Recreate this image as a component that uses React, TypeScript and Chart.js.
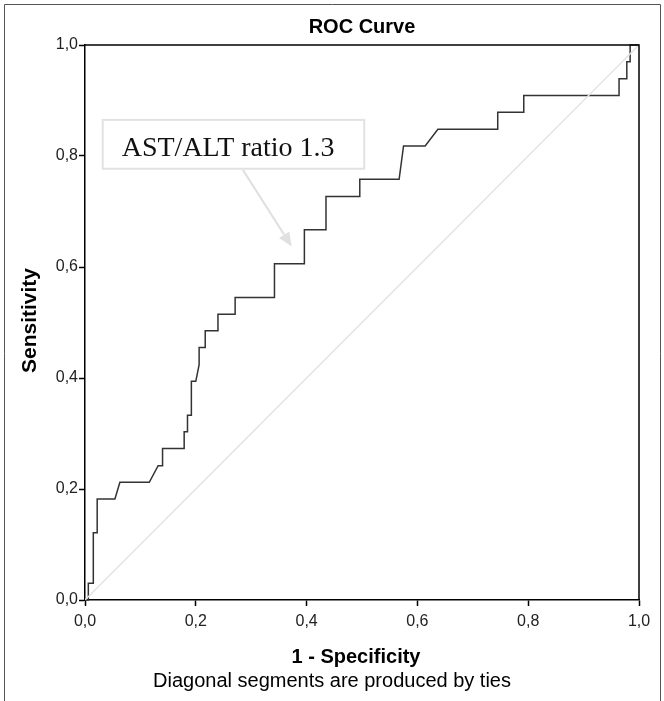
import React, { useEffect, useRef } from "react";
import { Chart, registerables } from "chart.js";

Chart.register(...registerables);

// ROC curve: 1 - specificity (false positive rate) and sensitivity
const FPR = [
  0, 0.006, 0.006, 0.015, 0.015, 0.022, 0.022, 0.054, 0.063, 0.116,
  0.132, 0.14, 0.14, 0.179, 0.179, 0.185, 0.185, 0.192, 0.192, 0.2,
  0.206, 0.206, 0.217, 0.217, 0.24, 0.24, 0.271, 0.271, 0.342, 0.342,
  0.396, 0.396, 0.435, 0.435, 0.496, 0.496, 0.567, 0.575, 0.614, 0.637,
  0.745, 0.745, 0.792, 0.792, 0.964, 0.964, 0.978, 0.978, 0.984, 0.984,
  1.0,
];
const TPR = [
  0, 0, 0.03, 0.03, 0.121, 0.121, 0.182, 0.182, 0.212, 0.212,
  0.242, 0.242, 0.273, 0.273, 0.303, 0.303, 0.333, 0.333, 0.394, 0.394,
  0.424, 0.455, 0.455, 0.485, 0.485, 0.515, 0.515, 0.545, 0.545, 0.606,
  0.606, 0.667, 0.667, 0.727, 0.727, 0.758, 0.758, 0.818, 0.818, 0.848,
  0.848, 0.879, 0.879, 0.909, 0.909, 0.939, 0.939, 0.97, 0.97, 1.0,
  1.0,
];
const REF_X = [0, 1];
const REF_Y = [0, 1];

const TICK_VALUES = [0, 0.2, 0.4, 0.6, 0.8, 1.0];
const TICK_LABELS = ["0,0", "0,2", "0,4", "0,6", "0,8", "1,0"];

const TITLE = "ROC Curve";
const X_TITLE = "1 - Specificity";
const Y_TITLE = "Sensitivity";
const FOOTNOTE = "Diagonal segments are produced by ties";
const ANNOTATION = "AST/ALT ratio 1.3";
// annotation box corners and arrow, in data units
const BOX_X = [0.032, 0.504];
const BOX_Y = [0.865, 0.777];
const ARROW_FROM = [0.285, 0.775];
const ARROW_TO = [0.373, 0.637];

const SANS = "Arial, 'Liberation Sans', sans-serif";
const SERIF = "'Times New Roman', 'Liberation Serif', serif";

function labelFor(v: number): string {
  const i = TICK_VALUES.findIndex((t) => Math.abs(t - v) < 1e-6);
  return i >= 0 ? TICK_LABELS[i] : "";
}

const decorPlugin = {
  id: "decor",
  afterDraw(chart: any) {
    const { ctx, chartArea, scales } = chart;
    const xs = scales.x;
    const ys = scales.y;
    const cx = (chartArea.left + chartArea.right) / 2;
    ctx.save();
    // outer frame
    ctx.strokeStyle = "#555";
    ctx.lineWidth = 1;
    ctx.beginPath();
    ctx.moveTo(4.5, 710);
    ctx.lineTo(4.5, 4.5);
    ctx.lineTo(660.5, 4.5);
    ctx.lineTo(660.5, 710);
    ctx.stroke();
    // plot frame top/right
    ctx.strokeStyle = "#000";
    ctx.lineWidth = 1.5;
    ctx.beginPath();
    ctx.moveTo(chartArea.left, chartArea.top);
    ctx.lineTo(chartArea.right, chartArea.top);
    ctx.lineTo(chartArea.right, chartArea.bottom);
    ctx.stroke();

    // texts
    ctx.fillStyle = "#000";
    ctx.textAlign = "center";
    ctx.textBaseline = "middle";
    ctx.font = `bold 20px ${SANS}`;
    ctx.fillText(TITLE, cx, 27);
    ctx.font = `bold 20px ${SANS}`;
    ctx.fillText(X_TITLE, cx - 6, 657);
    ctx.font = `20px ${SANS}`;
    ctx.fillText(FOOTNOTE, cx - 30, 681);
    ctx.save();
    ctx.translate(30, (chartArea.top + chartArea.bottom) / 2 - 2);
    ctx.rotate(-Math.PI / 2);
    ctx.font = `bold 21px ${SANS}`;
    ctx.fillText(Y_TITLE, 0, 0);
    ctx.restore();

    // annotation box
    const bx0 = xs.getPixelForValue(BOX_X[0]);
    const bx1 = xs.getPixelForValue(BOX_X[1]);
    const by0 = ys.getPixelForValue(BOX_Y[0]);
    const by1 = ys.getPixelForValue(BOX_Y[1]);
    ctx.fillStyle = "#fff";
    ctx.fillRect(bx0, by0, bx1 - bx0, by1 - by0);
    ctx.strokeStyle = "#e2e2e2";
    ctx.lineWidth = 2;
    ctx.strokeRect(bx0, by0, bx1 - bx0, by1 - by0);
    ctx.fillStyle = "#111";
    ctx.font = `28px ${SERIF}`;
    ctx.textAlign = "left";
    ctx.textBaseline = "alphabetic";
    ctx.fillText(ANNOTATION, bx0 + 19, by0 + 36);

    // arrow
    const ax0 = xs.getPixelForValue(ARROW_FROM[0]);
    const ay0 = ys.getPixelForValue(ARROW_FROM[1]);
    const ax1 = xs.getPixelForValue(ARROW_TO[0]);
    const ay1 = ys.getPixelForValue(ARROW_TO[1]);
    const ang = Math.atan2(ay1 - ay0, ax1 - ax0);
    const head = 14;
    const hx = ax1 - head * Math.cos(ang);
    const hy = ay1 - head * Math.sin(ang);
    ctx.strokeStyle = "#e0e0e0";
    ctx.lineWidth = 2;
    ctx.beginPath();
    ctx.moveTo(ax0, ay0);
    ctx.lineTo(hx, hy);
    ctx.stroke();
    ctx.fillStyle = "#e0e0e0";
    ctx.beginPath();
    ctx.moveTo(ax1, ay1);
    ctx.lineTo(hx + 6 * Math.sin(ang), hy - 6 * Math.cos(ang));
    ctx.lineTo(hx - 6 * Math.sin(ang), hy + 6 * Math.cos(ang));
    ctx.closePath();
    ctx.fill();
    ctx.restore();
  },
};

export default function App() {
  const ref = useRef<HTMLCanvasElement | null>(null);
  useEffect(() => {
    if (!ref.current) return;
    const curve = FPR.map((x, i) => ({ x, y: TPR[i] }));
    const diag = REF_X.map((x, i) => ({ x, y: REF_Y[i] }));
    const axisCommon = {
      type: "linear" as const,
      min: 0,
      max: 1,
      afterBuildTicks: (scale: any) => {
        scale.ticks = TICK_VALUES.map((v) => ({ value: v }));
      },
      grid: {
        display: true,
        drawOnChartArea: false,
        drawTicks: true,
        tickLength: 6,
        tickColor: "#000",
        tickWidth: 1.5,
      },
      border: { display: true, color: "#000", width: 1.5 },
    };
    const chart = new Chart(ref.current, {
      type: "scatter",
      data: {
        datasets: [
          {
            data: diag,
            showLine: true,
            borderColor: "#e3e3e3",
            borderWidth: 1.5,
            pointRadius: 0,
          },
          {
            data: curve,
            showLine: true,
            borderColor: "#333",
            borderWidth: 1.5,
            pointRadius: 0,
            clip: 4,
          },
        ],
      },
      options: {
        animation: false,
        responsive: false,
        devicePixelRatio: 1,
        layout: { padding: { top: 45, right: 25, bottom: 0, left: 0 } },
        plugins: {
          legend: { display: false },
          tooltip: { enabled: false },
          title: { display: false },
        },
        scales: {
          x: {
            ...axisCommon,
            position: "bottom",
            afterFit: (s: any) => {
              s.height = 101;
            },
            ticks: {
              color: "#222",
              font: { family: SANS, size: 16 },
              padding: 6,
              maxRotation: 0,
              callback: (v: any) => labelFor(Number(v)),
            },
          },
          y: {
            ...axisCommon,
            position: "left",
            afterFit: (s: any) => {
              s.width = 85;
            },
            ticks: {
              color: "#222",
              font: { family: SANS, size: 16 },
              padding: 1,
              callback: (v: any) => labelFor(Number(v)),
            },
          },
        },
      },
      plugins: [decorPlugin],
    });
    return () => chart.destroy();
  }, []);
  return (
    <div
      style={{
        position: "absolute",
        left: 0,
        top: 0,
        width: 664,
        height: 701,
        background: "#fff",
      }}
    >
      <canvas ref={ref} width={664} height={701} />
    </div>
  );
}
